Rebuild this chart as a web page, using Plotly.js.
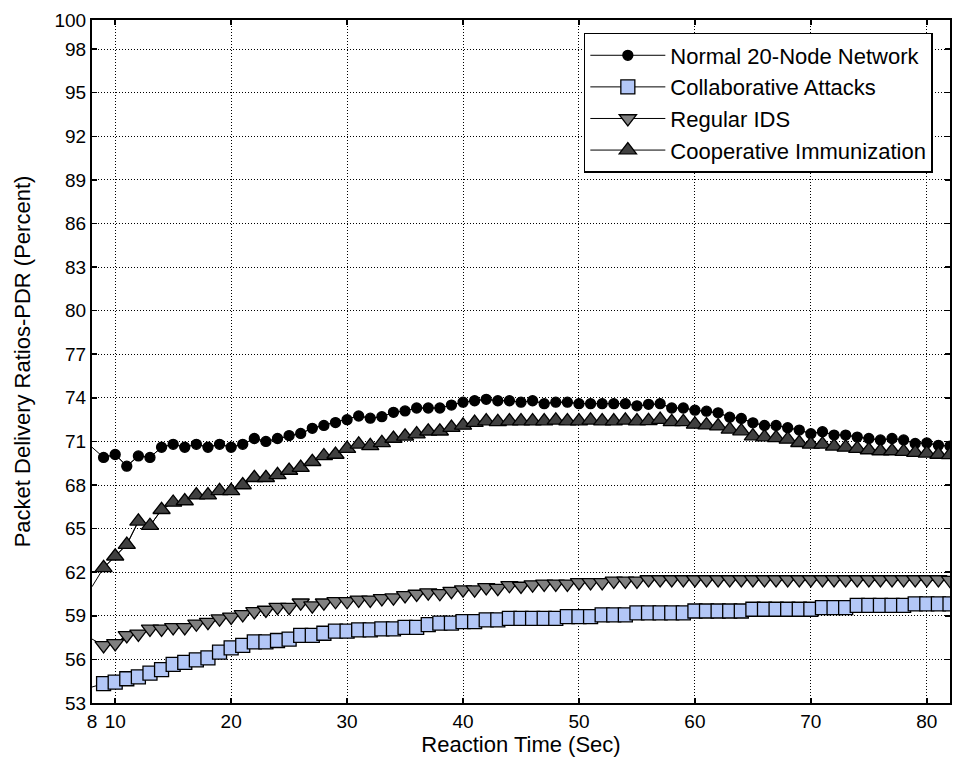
<!DOCTYPE html>
<html>
<head>
<meta charset="utf-8">
<script src="https://cdn.plot.ly/plotly-3.0.1.min.js"></script>
<style>html,body{margin:0;padding:0;background:#fff;}#chart{width:953px;height:769px;}</style>
</head>
<body>
<div id="chart"></div>
<script>
// Reaction time (sec): 8..82
const reactionTime = [8,9,10,11,12,13,14,15,16,17,18,19,20,21,22,23,24,25,26,27,28,29,30,31,32,33,34,35,36,37,38,39,40,41,42,43,44,45,46,47,48,49,50,51,52,53,54,55,56,57,58,59,60,61,62,63,64,65,66,67,68,69,70,71,72,73,74,75,76,77,78,79,80,81,82];

const normalNetwork = [70.6,69.9,70.1,69.3,70.0,69.9,70.6,70.8,70.6,70.8,70.6,70.8,70.6,70.8,71.2,71.0,71.2,71.4,71.55,71.9,72.1,72.3,72.5,72.75,72.6,72.7,73.0,73.1,73.3,73.3,73.3,73.5,73.7,73.8,73.9,73.8,73.8,73.7,73.8,73.6,73.7,73.7,73.6,73.6,73.6,73.6,73.6,73.45,73.55,73.6,73.3,73.3,73.15,73.08,72.97,72.67,72.58,72.28,72.1,72.1,71.94,71.78,71.53,71.67,71.44,71.44,71.3,71.2,71.1,71.2,71.1,70.86,70.9,70.73,70.68];

const collaborativeAttacks = [54.1,54.33,54.44,54.67,54.8,55.05,55.3,55.66,55.8,55.97,56.1,56.5,56.8,56.96,57.2,57.2,57.3,57.4,57.65,57.65,57.8,57.94,57.94,58.03,58.03,58.1,58.1,58.2,58.2,58.4,58.5,58.5,58.6,58.6,58.72,58.72,58.83,58.83,58.83,58.83,58.83,58.94,58.94,58.94,59.07,59.07,59.07,59.2,59.2,59.2,59.2,59.2,59.33,59.33,59.33,59.33,59.33,59.45,59.45,59.45,59.45,59.45,59.45,59.57,59.57,59.57,59.72,59.72,59.72,59.72,59.72,59.82,59.82,59.82,59.82];

const regularIDS = [57.4,56.96,57.1,57.65,57.76,58.1,58.1,58.2,58.2,58.45,58.56,58.8,58.93,59.1,59.3,59.4,59.6,59.6,59.9,59.7,59.9,60.0,60.0,60.1,60.1,60.2,60.25,60.4,60.5,60.6,60.55,60.7,60.8,60.8,60.95,60.9,61.1,61.05,61.15,61.2,61.2,61.2,61.3,61.3,61.3,61.4,61.4,61.4,61.5,61.5,61.5,61.5,61.5,61.5,61.5,61.5,61.5,61.5,61.5,61.5,61.5,61.5,61.5,61.5,61.5,61.5,61.5,61.5,61.5,61.5,61.5,61.5,61.5,61.5,61.45];

const cooperativeImmunization = [61.0,62.3,63.1,63.9,65.5,65.2,66.3,66.8,66.9,67.3,67.3,67.6,67.6,68.0,68.5,68.5,68.7,69.0,69.2,69.6,70.0,70.1,70.5,70.8,70.7,70.9,71.2,71.35,71.5,71.7,71.7,71.95,72.1,72.3,72.4,72.35,72.4,72.4,72.4,72.4,72.45,72.4,72.4,72.45,72.4,72.4,72.45,72.4,72.42,72.5,72.35,72.35,72.17,72.12,72.05,71.83,71.71,71.37,71.3,71.25,71.14,70.91,70.8,70.8,70.66,70.59,70.5,70.41,70.34,70.34,70.3,70.23,70.18,70.1,70.08];

const seriesNames = ["Normal 20-Node Network","Collaborative Attacks","Regular IDS","Cooperative Immunization"];
const xTicks = [8,10,20,30,40,50,60,70,80];
const yTicks = [53,56,59,62,65,68,71,74,77,80,83,86,89,92,95,98,100];

const styles = [
  {symbol:"circle", size:10, color:"#000000"},
  {symbol:"square", size:14, color:"#b3c7f7"},
  {symbol:"triangle-down", size:15, color:"#808080"},
  {symbol:"triangle-up", size:15, color:"#404040"}
];
const ys = [normalNetwork, collaborativeAttacks, regularIDS, cooperativeImmunization];

const traces = [];
ys.forEach((y, i) => {
  traces.push({x: reactionTime, y: y, mode: "lines", line:{color:"#000", width:1}, showlegend:false, hoverinfo:"skip"});
  traces.push({
    x: reactionTime.slice(1), y: y.slice(1), mode: "lines+markers", name: seriesNames[i],
    line:{color:"#000", width:1},
    marker:{symbol: styles[i].symbol, size: styles[i].size, color: styles[i].color, line:{color:"#000", width:1.3}}
  });
});

const fontFam = "Liberation Sans, Arial, sans-serif";
const layout = {
  width: 953, height: 769,
  margin: {l:92, r:3, t:20, b:66},
  paper_bgcolor:"#fff", plot_bgcolor:"#fff",
  font: {family: fontFam, color:"#000", size:19},
  showlegend: true,
  legend: {
    x: 0.98, y: 0.981, xanchor:"right", yanchor:"top",
    bgcolor:"#fff", bordercolor:"#000", borderwidth:1.5,
    font:{family: fontFam, size:22, color:"#000"},
    itemwidth: 75
  },
  xaxis: {
    range:[8,82], tickvals: xTicks, ticktext: xTicks.map(String),
    showline:true, linecolor:"#000", linewidth:2, mirror:"allticks",
    ticks:"inside", ticklen:5, tickwidth:1.5, tickcolor:"#000",
    showgrid:true, gridcolor:"#000", gridwidth:1, griddash:"1px,2px",
    zeroline:false, tickfont:{size:19},
    title:{text:"Reaction Time (Sec)", font:{size:22}, standoff:6}
  },
  yaxis: {
    range:[53,100], tickvals: yTicks, ticktext: yTicks.map(String),
    showline:true, linecolor:"#000", linewidth:2, mirror:"allticks",
    ticks:"inside", ticklen:5, tickwidth:1.5, tickcolor:"#000",
    showgrid:true, gridcolor:"#000", gridwidth:1, griddash:"1px,2px",
    zeroline:false, tickfont:{size:19},
    title:{text:"Packet Delivery Ratios-PDR (Percent)", font:{size:22}, standoff:18}
  }
};
Plotly.newPlot("chart", traces, layout, {displayModeBar:false, staticPlot:true});
</script>
</body>
</html>
